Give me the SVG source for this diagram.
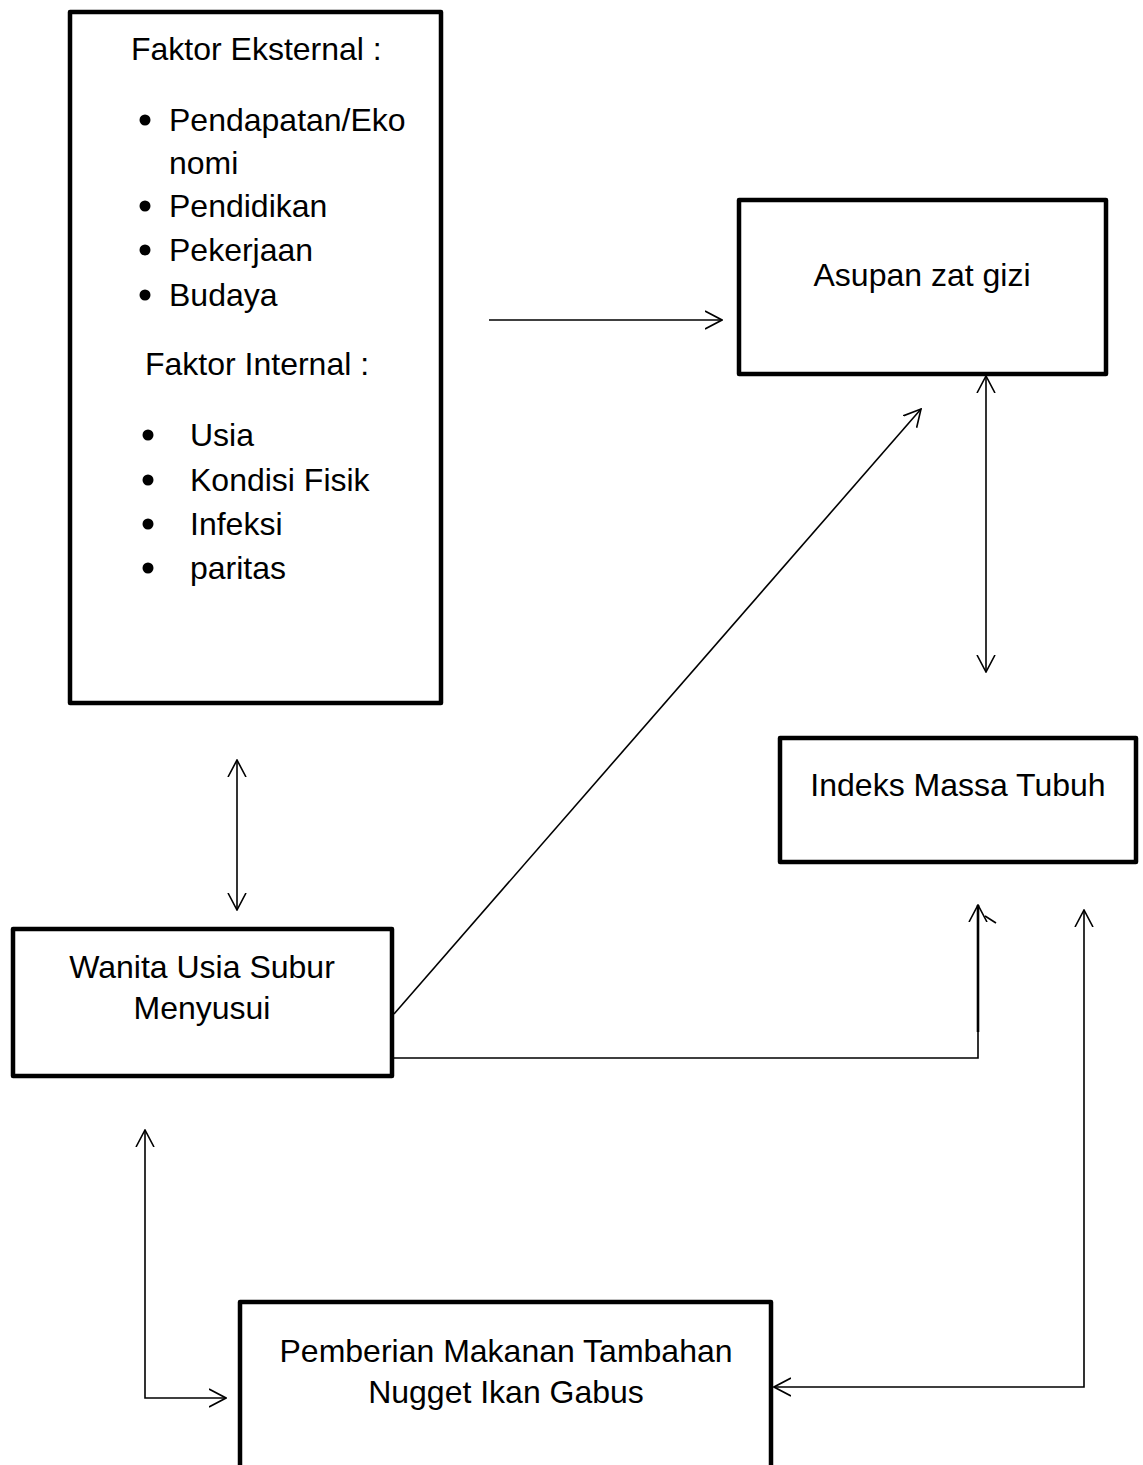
<svg xmlns="http://www.w3.org/2000/svg" width="1143" height="1465" viewBox="0 0 1143 1465">
<style>
.box{fill:#fff;stroke:#000;stroke-width:4.5;stroke-linejoin:round}
.t{font-family:"Liberation Sans",Arial,sans-serif;font-size:32px;fill:#000}
.c{text-anchor:middle}
.ln{fill:none;stroke:#000;stroke-width:1.6}
</style>
<defs>
<marker id="ah" viewBox="0 0 18 20" markerWidth="18" markerHeight="20" refX="17" refY="10" markerUnits="userSpaceOnUse" orient="auto-start-reverse">
<path d="M0,1 L17,10 L0,19" fill="none" stroke="#000" stroke-width="1.6"/>
</marker>
</defs>
<rect width="1143" height="1465" fill="#fff"/>
<g id="faktor">
<rect class="box" x="70" y="12" width="371" height="691"/>
<text class="t" x="131" y="60">Faktor Eksternal :</text>
<circle cx="145" cy="120" r="5.5"/><text class="t" x="169" y="131">Pendapatan/Eko</text>
<text class="t" x="169" y="174">nomi</text>
<circle cx="145" cy="206" r="5.5"/><text class="t" x="169" y="217">Pendidikan</text>
<circle cx="145" cy="250" r="5.5"/><text class="t" x="169" y="261">Pekerjaan</text>
<circle cx="145" cy="295" r="5.5"/><text class="t" x="169" y="306">Budaya</text>
<text class="t" x="145" y="375">Faktor Internal :</text>
<circle cx="148" cy="435" r="5.5"/><text class="t" x="190" y="446">Usia</text>
<circle cx="148" cy="480" r="5.5"/><text class="t" x="190" y="491">Kondisi Fisik</text>
<circle cx="148" cy="524" r="5.5"/><text class="t" x="190" y="535">Infeksi</text>
<circle cx="148" cy="568" r="5.5"/><text class="t" x="190" y="579">paritas</text>
</g>
<g id="asupan">
<rect class="box" x="739" y="200" width="367" height="174"/>
<text class="t c" x="922" y="286">Asupan zat gizi</text>
</g>
<g id="imt">
<rect class="box" x="780" y="738" width="356" height="124"/>
<text class="t c" x="958" y="796">Indeks Massa Tubuh</text>
</g>
<g id="wanita">
<rect class="box" x="13" y="929" width="379" height="147"/>
<text class="t c" x="202" y="978">Wanita Usia Subur</text>
<text class="t c" x="202" y="1019">Menyusui</text>
</g>
<g id="pemberian">
<rect class="box" x="240" y="1302" width="531" height="200"/>
<text class="t c" x="506" y="1362">Pemberian Makanan Tambahan</text>
<text class="t c" x="506" y="1403">Nugget Ikan Gabus</text>
</g>
<g id="connectors">
<line class="ln" x1="489" y1="320" x2="722" y2="320" marker-end="url(#ah)"/>
<line class="ln" x1="986" y1="376" x2="986" y2="672" marker-start="url(#ah)" marker-end="url(#ah)"/>
<line class="ln" x1="237" y1="760" x2="237" y2="910" marker-start="url(#ah)" marker-end="url(#ah)"/>
<line class="ln" x1="394" y1="1014" x2="921" y2="409" marker-end="url(#ah)"/>
<polyline class="ln" points="394,1058 978,1058 978,1032"/>
<line x1="978" y1="1032" x2="978" y2="905" stroke="#000" stroke-width="2.6" marker-end="url(#ah)"/>
<line x1="985" y1="916" x2="996" y2="923" stroke="#000" stroke-width="1.6"/>
<polyline class="ln" points="774,1387 1084,1387 1084,910" marker-start="url(#ah)" marker-end="url(#ah)"/>
<polyline class="ln" points="145,1130 145,1398 226,1398" marker-start="url(#ah)" marker-end="url(#ah)"/>
</g>
</svg>
